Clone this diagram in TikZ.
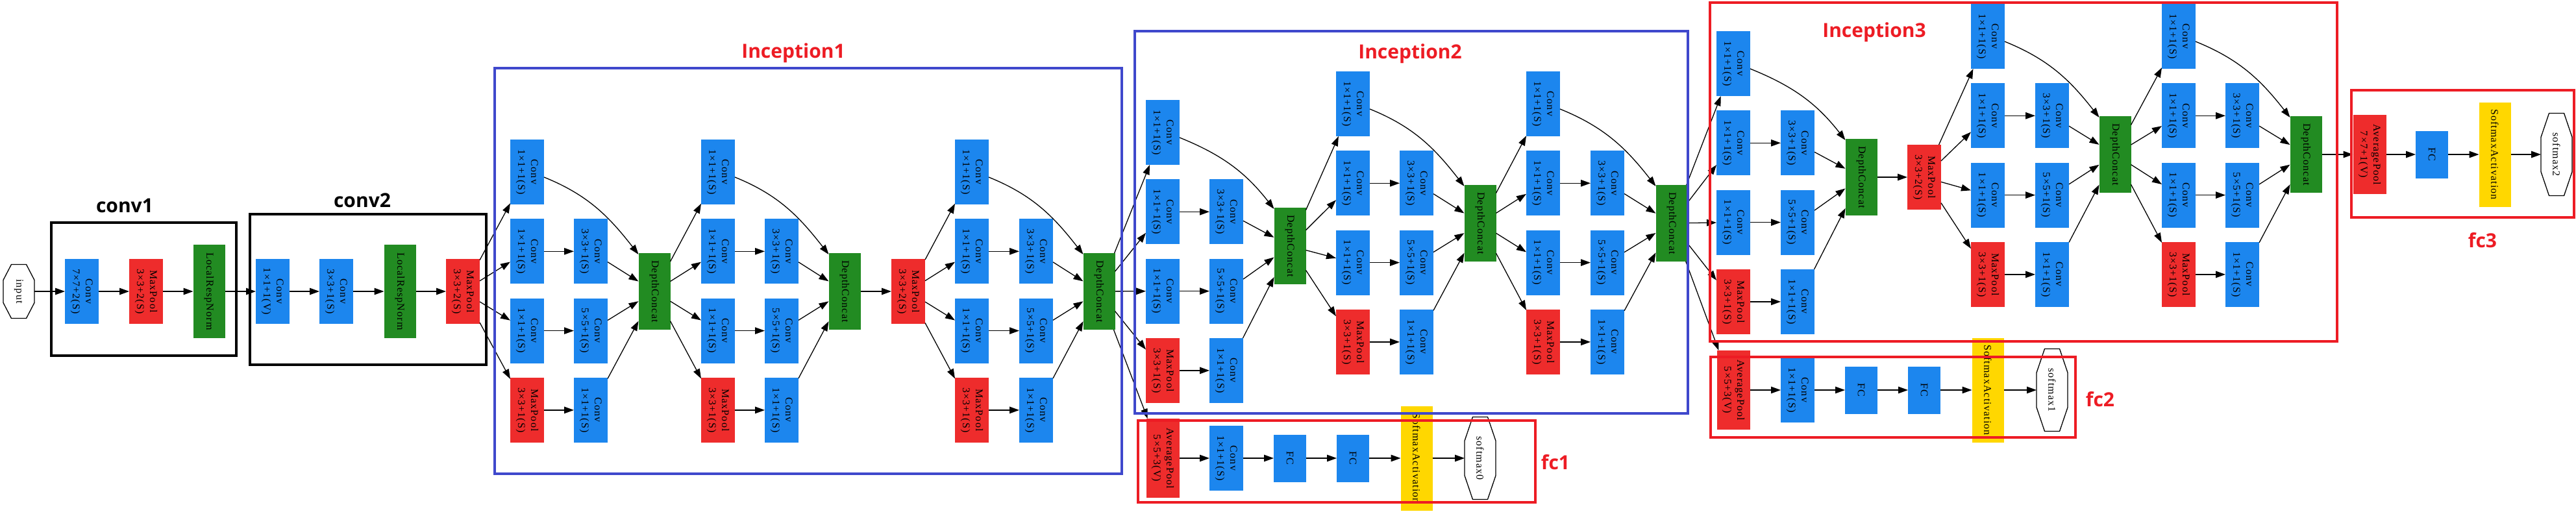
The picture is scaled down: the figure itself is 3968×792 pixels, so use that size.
\documentclass[tikz,border=0pt]{standalone}
\usepackage{fontspec}
\usepackage{graphicx}
\usetikzlibrary{arrows.meta,calc}
\newfontfamily\nf{Liberation Serif}[LetterSpace=7]
\newfontfamily\lblfont{Open Sans}
\definecolor{cblue}{HTML}{1C86EE}
\definecolor{cred}{HTML}{EE2C2C}
\definecolor{cgreen}{HTML}{228B22}
\definecolor{cyellow}{HTML}{FFD700}
\definecolor{fblue}{HTML}{3F48CC}
\definecolor{fred}{HTML}{ED1C24}
\newcommand\twol[2]{\rotatebox{-90}{\begin{tabular}{@{}c@{}}#1\\#2\end{tabular}}}
\newcommand\onel[1]{\rotatebox{-90}{#1}}
\newcommand\octa[1]{\draw[line width=1.3pt] ($(#1.north)!0.48!(#1.north east)$) -- ($(#1.east)!0.42!(#1.north east)$) -- ($(#1.east)!0.42!(#1.south east)$) -- ($(#1.south)!0.48!(#1.south east)$) -- ($(#1.south)!0.48!(#1.south west)$) -- ($(#1.west)!0.42!(#1.south west)$) -- ($(#1.west)!0.42!(#1.north west)$) -- ($(#1.north)!0.48!(#1.north west)$) -- cycle;}
\tikzset{
  box/.style={rectangle, inner sep=0pt, outer sep=0pt, text=black, font={\nf\fontsize{16}{20}\selectfont}},
  cv/.style={box, fill=cblue, minimum width=52, minimum height=100},
  mp/.style={box, fill=cred, minimum width=52, minimum height=100},
  dc/.style={box, fill=cgreen, minimum width=49, minimum height=118},
  lrn/.style={box, fill=cgreen, minimum width=49, minimum height=144},
  ap/.style={box, fill=cred, minimum width=51, minimum height=122},
  fcn/.style={box, fill=cblue, minimum width=50, minimum height=73},
  sa/.style={box, fill=cyellow, minimum width=49, minimum height=161},
  oct/.style={box, minimum width=48, minimum height=127},
  arr/.style={line width=1.3pt, -{Triangle[length=15pt,width=10.5pt]}},
  frame/.style={line width=4pt},
  glab/.style={font={\lblfont\bfseries\fontsize{30}{36}\selectfont}, anchor=base, inner sep=0pt},
}
% inception module: prefix, input node, x col1, x col2, x concat, y row A, y concat
\newcommand\incep[7]{%
  \node[cv] (#1a1) at (#3,-#6) {\twol{Conv}{1×1+1(S)}};
  \node[cv] (#1b1) at (#3,-#6-122.3) {\twol{Conv}{1×1+1(S)}};
  \node[cv] (#1c1) at (#3,-#6-244.6) {\twol{Conv}{1×1+1(S)}};
  \node[mp] (#1d1) at (#3,-#6-366.9) {\twol{MaxPool}{3×3+1(S)}};
  \node[cv] (#1b2) at (#4,-#6-122.3) {\twol{Conv}{3×3+1(S)}};
  \node[cv] (#1c2) at (#4,-#6-244.6) {\twol{Conv}{5×5+1(S)}};
  \node[cv] (#1d2) at (#4,-#6-366.9) {\twol{Conv}{1×1+1(S)}};
  \node[dc] (#1cc) at (#5,-#7) {\onel{DepthConcat}};
  \draw[arr] (#2) -- (#1a1);
  \draw[arr] (#2) -- (#1b1);
  \draw[arr] (#2) -- (#1c1);
  \draw[arr] (#2) -- (#1d1);
  \draw[arr] (#1b1) -- (#1b2);
  \draw[arr] (#1c1) -- (#1c2);
  \draw[arr] (#1d1) -- (#1d2);
  \draw[arr] ($(#1a1.east)+(0,-8)$) to[out=-22,in=128] ($(#1cc.north west)+(0,-2)$);
  \draw[arr] (#1b2) -- (#1cc);
  \draw[arr] (#1c2) -- (#1cc);
  \draw[arr] (#1d2) -- (#1cc);
}
\begin{document}
\begin{tikzpicture}[x=1pt,y=1pt]
\fill[white] (0,0) rectangle (3968,-792);
\useasboundingbox (0,0) rectangle (3968,-792);
% stem
\node[oct, minimum height=83] (input) at (29,-449) {\onel{input}};
\octa{input}
\node[cv] (c1a) at (126,-449) {\twol{Conv}{7×7+2(S)}};
\node[mp] (c1b) at (225,-449) {\twol{MaxPool}{3×3+2(S)}};
\node[lrn] (c1c) at (322,-449) {\onel{LocalRespNorm}};
\node[cv] (c2a) at (420,-449) {\twol{Conv}{1×1+1(V)}};
\node[cv] (c2b) at (518,-449) {\twol{Conv}{3×3+1(S)}};
\node[lrn] (c2c) at (616,-449) {\onel{LocalRespNorm}};
\node[mp] (c2d) at (713,-449) {\twol{MaxPool}{3×3+2(S)}};
\draw[arr] (input) -- (c1a);
\draw[arr] (c1a) -- (c1b);
\draw[arr] (c1b) -- (c1c);
\draw[arr] (c1c) -- (c2a);
\draw[arr] (c2a) -- (c2b);
\draw[arr] (c2b) -- (c2c);
\draw[arr] (c2c) -- (c2d);
% inception 1
\incep{ma}{c2d}{812}{910}{1008}{265}{449}
\incep{mb}{macc}{1106}{1204}{1301}{265}{449}
\node[mp] (p1) at (1399,-449) {\twol{MaxPool}{3×3+2(S)}};
\draw[arr] (mbcc) -- (p1);
\incep{mc}{p1}{1497}{1596}{1693}{265}{449}
% inception 2
\incep{md}{mccc}{1791}{1889}{1987}{204}{379}
\incep{me}{mdcc}{2084}{2182}{2280}{160}{344}
\incep{mf}{mecc}{2377}{2476}{2575}{160}{344}
% inception 3
\incep{mg}{mfcc}{2670}{2769}{2867}{98}{273}
\node[mp] (p2) at (2964,-273) {\twol{MaxPool}{3×3+2(S)}};
\draw[arr] (mgcc) -- (p2);
\incep{mh}{p2}{3062}{3161}{3258}{56}{238}
\incep{mi}{mhcc}{3356}{3454}{3552}{56}{238}
% fc1
\node[ap] (f1a) at (1791,-706) {\twol{AveragePool}{5×5+3(V)}};
\node[cv] (f1b) at (1889,-706) {\twol{Conv}{1×1+1(S)}};
\node[fcn] (f1c) at (1987,-706) {\onel{FC}};
\node[fcn] (f1d) at (2084,-706) {\onel{FC}};
\node[sa] (f1e) at (2182,-706) {\onel{SoftmaxActivation}};
\node[oct] (f1f) at (2280,-706) {\onel{softmax0}};
\octa{f1f}
\draw[arr] (mccc) -- (f1a);
\draw[arr] (f1a) -- (f1b);
\draw[arr] (f1b) -- (f1c);
\draw[arr] (f1c) -- (f1d);
\draw[arr] (f1d) -- (f1e);
\draw[arr] (f1e) -- (f1f);
% fc2
\node[ap] (f2a) at (2670,-601) {\twol{AveragePool}{5×5+3(V)}};
\node[cv] (f2b) at (2769,-601) {\twol{Conv}{1×1+1(S)}};
\node[fcn] (f2c) at (2867,-601) {\onel{FC}};
\node[fcn] (f2d) at (2964,-601) {\onel{FC}};
\node[sa] (f2e) at (3062,-601) {\onel{SoftmaxActivation}};
\node[oct] (f2f) at (3161,-601) {\onel{softmax1}};
\octa{f2f}
\draw[arr] (mfcc) -- (f2a);
\draw[arr] (f2a) -- (f2b);
\draw[arr] (f2b) -- (f2c);
\draw[arr] (f2c) -- (f2d);
\draw[arr] (f2d) -- (f2e);
\draw[arr] (f2e) -- (f2f);
% fc3
\node[ap] (f3a) at (3650,-238) {\twol{AveragePool}{7×7+1(V)}};
\node[fcn] (f3b) at (3746,-238) {\onel{FC}};
\node[sa] (f3c) at (3843,-238) {\onel{SoftmaxActivation}};
\node[oct] (f3d) at (3938,-238) {\onel{softmax2}};
\octa{f3d}
\draw[arr] (micc) -- (f3a);
\draw[arr] (f3a) -- (f3b);
\draw[arr] (f3b) -- (f3c);
\draw[arr] (f3c) -- (f3d);
% frames
\draw[frame] (79,-343) rectangle (364,-548);
\draw[frame] (385,-330) rectangle (749,-562);
\draw[frame, draw=fblue] (762,-105) rectangle (1728,-730);
\draw[frame, draw=fblue] (1748,-48) rectangle (2600,-637);
\draw[frame, draw=fred] (2634,-4) rectangle (3600,-526);
\draw[frame, draw=fred] (1753,-648) rectangle (2365,-774);
\draw[frame, draw=fred] (2635,-550) rectangle (3197,-674);
\draw[frame, draw=fred] (3622,-139) rectangle (3965,-335);
% labels
\node[glab] (lconv1) at (192,-327) {conv1};
\node[glab] (lconv2) at (558,-319) {conv2};
\node[glab, text=fred] (linc1) at (1222,-89) {Inception1};
\node[glab, text=fred] (linc2) at (2172,-90) {Inception2};
\node[glab, text=fred] (linc3) at (2887,-58) {Inception3};
\node[glab, text=fred] (lfc1) at (2396,-723) {fc1};
\node[glab, text=fred] (lfc2) at (3235,-626) {fc2};
\node[glab, text=fred] (lfc3) at (3824,-381) {fc3};
\end{tikzpicture}
\end{document}
